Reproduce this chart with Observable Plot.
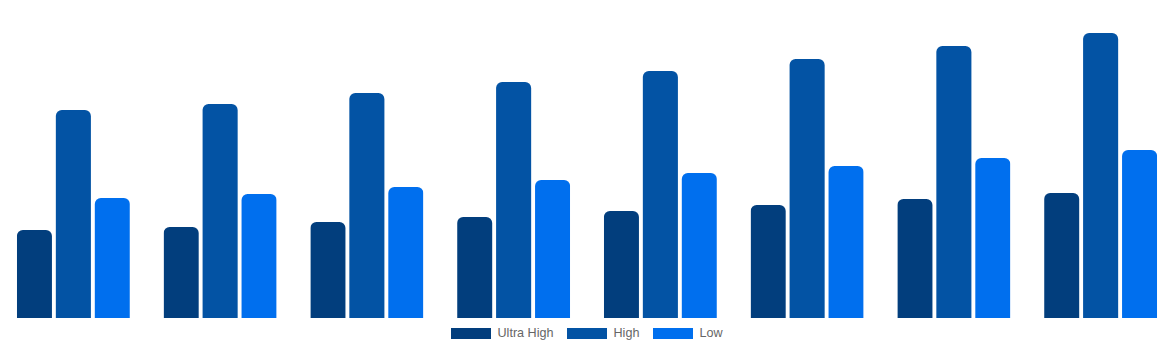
<!DOCTYPE html>
<html>
<head>
<meta charset="utf-8">
<script src="https://cdn.jsdelivr.net/npm/d3@7"></script>
<script src="https://cdn.jsdelivr.net/npm/@observablehq/plot@0.6"></script>
<style>
  body { margin: 0; background: #fff; font-family: "Liberation Sans", Arial, sans-serif; }
  #legend { display: flex; justify-content: center; align-items: center; height: 22px; margin-top: 0px; font-size: 12.6px; color: #666; }
  .item { display: flex; align-items: center; margin: 0 7px; }
  .sw { width: 40px; height: 11px; margin-right: 6px; }
</style>
</head>
<body>
<div id="chart"></div>
<div id="legend"></div>
<script>
const groups = ["1", "2", "3", "4", "5", "6", "7", "8"];
const seriesNames = ["Ultra High", "High", "Low"];
const colors = ["#023e7d", "#0353a4", "#006fee"];
const ultraHigh = [88, 91, 96, 101, 107, 113, 119, 125];
const high = [208, 214, 225, 236, 247, 259, 272, 285];
const low = [120, 124, 131, 138, 145, 152, 160, 168];

const seriesValues = [ultraHigh, high, low];
const data = [];
groups.forEach((g, i) => {
  seriesNames.forEach((s, j) => data.push({group: g, series: s, value: seriesValues[j][i]}));
});

const chart = Plot.plot({
  width: 1174,
  height: 322,
  marginTop: 0,
  marginBottom: 4,
  marginLeft: 0,
  marginRight: 0,
  fx: {domain: groups, paddingInner: 0.23, paddingOuter: 0.115, round: false, axis: null},
  x: {domain: seriesNames, paddingInner: 0.1, paddingOuter: 0, round: false, axis: null},
  y: {domain: [0, 318], axis: null},
  color: {domain: seriesNames, range: colors},
  marks: [
    Plot.rect(data, {
      fx: "group",
      x: "series",
      y1: () => -20,
      y2: "value",
      fill: "series",
      rx: 6,
      clip: true
    })
  ]
});
document.getElementById("chart").appendChild(chart);

const legend = document.getElementById("legend");
seriesNames.forEach((s, j) => {
  const item = document.createElement("div");
  item.className = "item";
  const sw = document.createElement("div");
  sw.className = "sw";
  sw.style.background = colors[j];
  const t = document.createElement("span");
  t.textContent = s;
  item.appendChild(sw);
  item.appendChild(t);
  legend.appendChild(item);
});
</script>
</body>
</html>
